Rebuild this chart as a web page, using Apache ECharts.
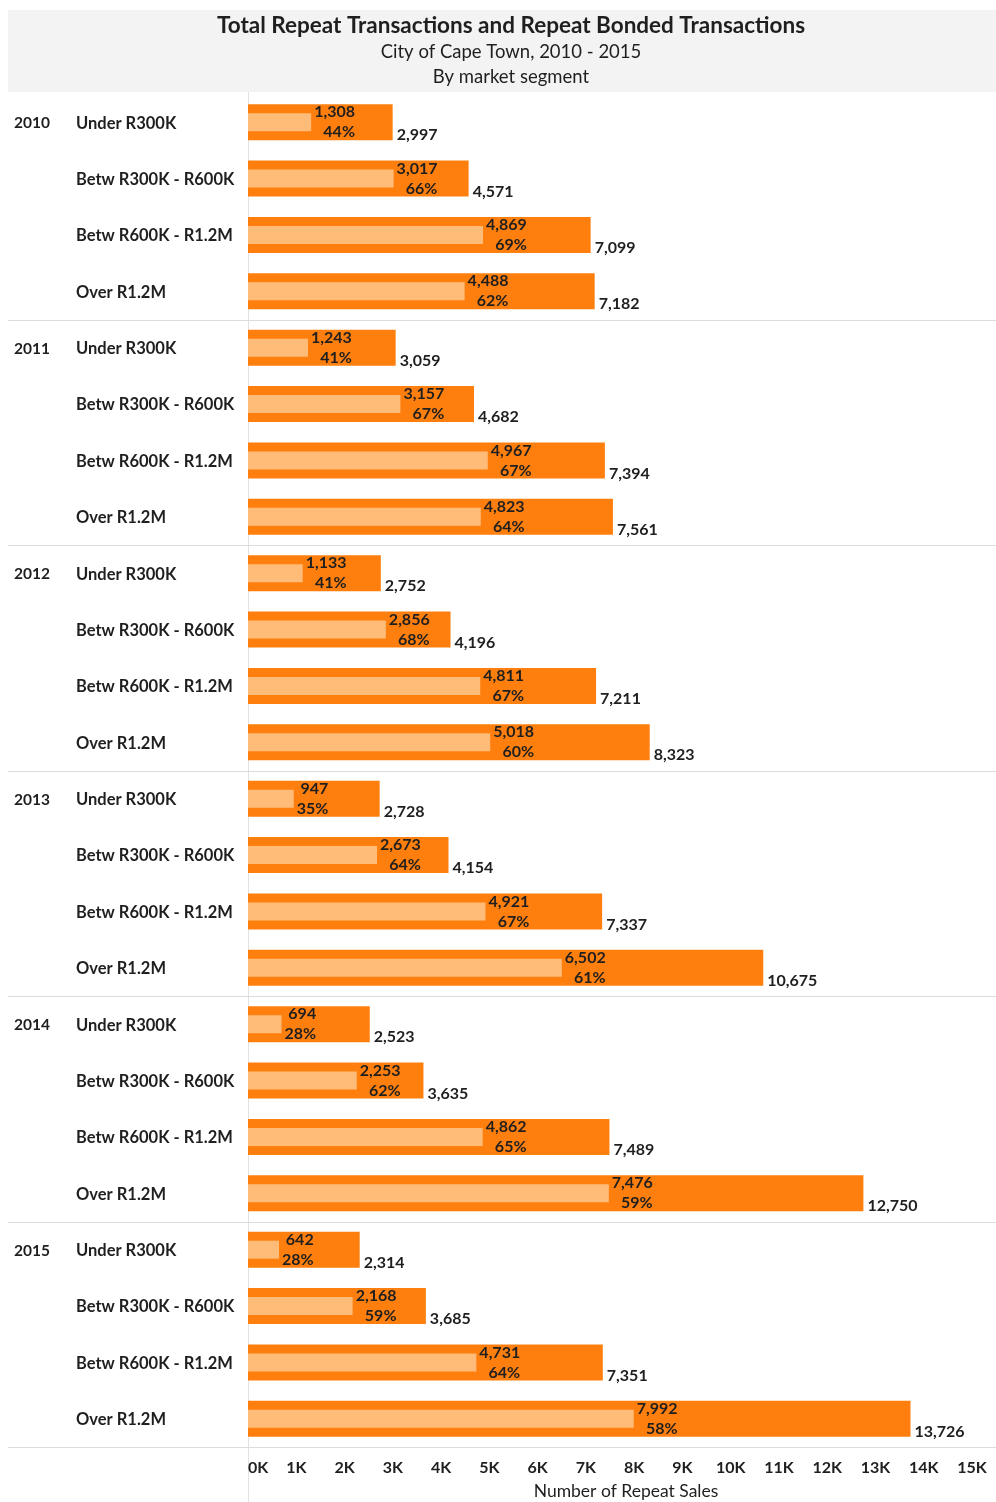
<!DOCTYPE html>
<html>
<head>
<meta charset="utf-8">
<script src="https://cdn.jsdelivr.net/npm/echarts@6/dist/echarts.min.js"></script>
<style>
  html, body { margin: 0; padding: 0; background: #fff; }
  #chart { width: 996px; height: 1502px; }
</style>
</head>
<body>
<div id="chart"></div>
<script>
// Repeat transactions by year and market segment, City of Cape Town
const years = ['2010', '2011', '2012', '2013', '2014', '2015'];
const segments = ['Under R300K', 'Betw R300K - R600K', 'Betw R600K - R1.2M', 'Over R1.2M'];

// Total repeat transactions, one row per year, one column per segment
const totalRepeat = [
  [2997, 4571, 7099, 7182],
  [3059, 4682, 7394, 7561],
  [2752, 4196, 7211, 8323],
  [2728, 4154, 7337, 10675],
  [2523, 3635, 7489, 12750],
  [2314, 3685, 7351, 13726]
];

// Repeat bonded transactions
const bondedRepeat = [
  [1308, 3017, 4869, 4488],
  [1243, 3157, 4967, 4823],
  [1133, 2856, 4811, 5018],
  [947, 2673, 4921, 6502],
  [694, 2253, 4862, 7476],
  [642, 2168, 4731, 7992]
];

const axisMax = 15000;
const axisStep = 1000;

const FONT = 'Lato, "Open Sans", sans-serif';
const INK = '#1f1f1f';

// one row per (year, segment)
const rows = [];
years.forEach((y, yi) => segments.forEach((s, si) => {
  rows.push({ key: y + '|' + s, year: y, segment: s, total: totalRepeat[yi][si], bonded: bondedRepeat[yi][si] });
}));
const rowKeys = rows.map(r => r.key);

const fmt = v => v.toLocaleString('en-US');

const chart = echarts.init(document.getElementById('chart'), null, { renderer: 'canvas' });

const option = {
  backgroundColor: '#ffffff',
  animation: false,
  title: {
    text: 'Total Repeat Transactions and Repeat Bonded Transactions',
    subtext: 'City of Cape Town, 2010 - 2015\nBy market segment',
    left: 506,
    top: 9,
    textAlign: 'center',
    itemGap: 3,
    textStyle: { fontFamily: FONT, fontSize: 22.5, fontWeight: 'bold', color: INK },
    subtextStyle: { fontFamily: FONT, fontSize: 18.5, color: INK, lineHeight: 25 }
  },
  grid: { left: 248, right: 24, top: 94, bottom: 55, containLabel: false, outerBoundsMode: 'none' },
  xAxis: {
    type: 'value',
    min: 0,
    max: axisMax,
    interval: axisStep,
    axisLine: { show: false },
    axisTick: { show: false },
    splitLine: { show: false },
    axisLabel: {
      formatter: v => (v / 1000) + 'K',
      fontFamily: FONT, fontSize: 16, fontWeight: 'bold', color: INK,
      margin: 13,
      alignMinLabel: 'left'
    },
    name: 'Number of Repeat Sales',
    nameLocation: 'middle',
    nameGap: 35,
    nameTextStyle: { fontFamily: FONT, fontSize: 17.5, color: INK, padding: [0, 0, 0, 32] }
  },
  yAxis: [
    {
      type: 'category',
      inverse: true,
      data: rowKeys,
      axisLine: { show: false },
      axisTick: { show: false },
      splitLine: { show: false },
      axisLabel: {
        align: 'left',
        margin: 234,
        formatter: (value, index) => {
          const r = rows[index];
          const yr = index % segments.length === 0 ? r.year : ' ';
          return '{yr|' + yr + '}{seg|' + r.segment + '}';
        },
        rich: {
          yr: { width: 62, fontFamily: FONT, fontSize: 15.5, fontWeight: 'bold', color: INK, padding: [2, 0, 0, 0] },
          seg: { fontFamily: FONT, fontSize: 16.5, fontWeight: 'bold', color: INK, padding: [2, 0, 0, 0] }
        }
      }
    },
    {
      // twin axis so the narrower bonded bar sits centred inside the total bar
      type: 'category',
      inverse: true,
      data: rowKeys,
      show: false,
      position: 'left'
    }
  ],
  series: [
    {
      name: 'Total Repeat Transactions',
      type: 'bar',
      yAxisIndex: 0,
      data: rows.map(r => r.total),
      barWidth: 36,
      itemStyle: { color: '#ff7f0e' },
      label: {
        show: true,
        position: 'right',
        distance: 4,
        offset: [0, 13],
        formatter: p => fmt(p.value),
        fontFamily: FONT, fontSize: 16, fontWeight: 'bold', color: INK
      },
      z: 2
    },
    {
      name: 'Repeat Bonded Transactions',
      type: 'bar',
      yAxisIndex: 1,
      data: rows.map(r => r.bonded),
      barWidth: 18,
      itemStyle: { color: '#ffbb78' },
      label: {
        show: true,
        position: 'right',
        distance: 3,
        formatter: p => {
          const r = rows[p.dataIndex];
          const pct = Math.round(r.bonded / r.total * 100) + '%';
          return '{v|' + fmt(r.bonded) + '}\n{v|' + pct + '}';
        },
        rich: {
          v: { align: 'right', fontFamily: FONT, fontSize: 16, fontWeight: 'bold', color: INK, lineHeight: 20 }
        }
      },
      z: 3
    }
  ],
  graphic: [
    { id: 'band', type: 'rect', shape: { x: 8, y: 10, width: 988, height: 82 }, style: { fill: '#f3f3f3' }, z: -10, silent: true },
    { id: 'divider', type: 'line', shape: { x1: 248.5, y1: 92, x2: 248.5, y2: 1502 }, style: { stroke: '#e2e2e2', lineWidth: 1 }, z: -5, silent: true }
  ]
};

chart.setOption(option);

// separators between year groups, positioned from the category axis
const centerOf = i => chart.convertToPixel({ yAxisIndex: 0 }, rows[i].key);
const band = centerOf(1) - centerOf(0);
const seps = [];
for (let g = 1; g <= years.length; g++) {
  const idx = g * segments.length;
  const y = idx < rows.length ? centerOf(idx) - band / 2 : centerOf(rows.length - 1) + band / 2;
  const yy = Math.round(y) + 0.5;
  seps.push({ id: 'sep' + g, type: 'line', shape: { x1: 8, y1: yy, x2: 996, y2: yy }, style: { stroke: '#dcdcdc', lineWidth: 1 }, z: -5, silent: true });
}
chart.setOption({ graphic: seps });
</script>
</body>
</html>
